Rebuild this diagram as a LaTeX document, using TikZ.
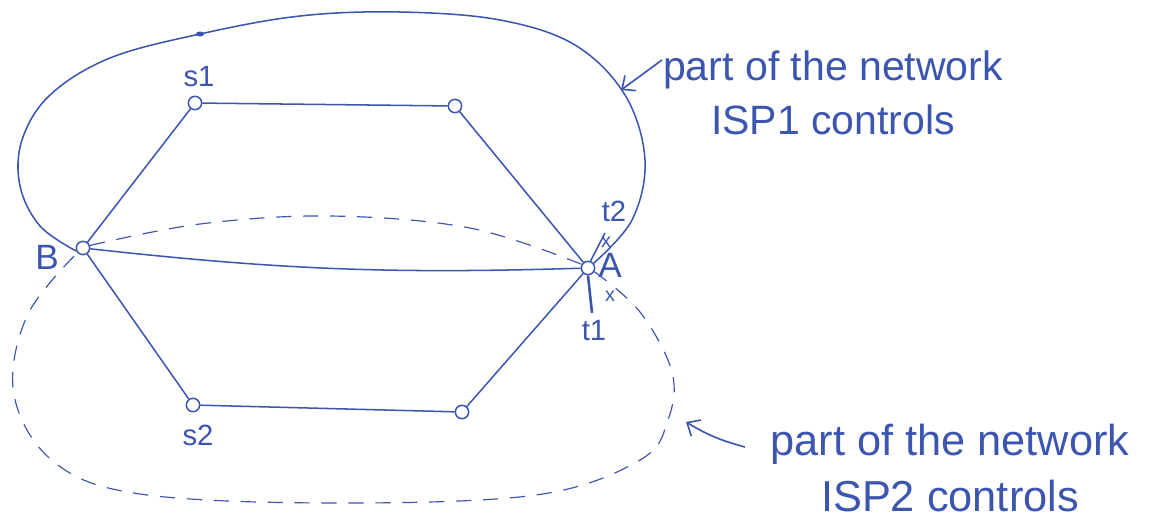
\documentclass[tikz,border=0pt]{standalone}
\usepackage{fontspec}
\setmainfont{Liberation Sans}
\usetikzlibrary{arrows.meta}
\definecolor{pen}{RGB}{60,85,175}
\begin{document}
\begin{tikzpicture}[x=0.03cm,y=-0.03cm, line width=1.3pt, draw=pen, text=pen,
  vtx/.style={circle,draw=pen,fill=white,inner sep=0pt,minimum size=0.40cm,line width=1.3pt},
  lbl/.style={font=\fontsize{25}{27}\selectfont},
  bigl/.style={font=\fontsize{30}{32}\selectfont},
  xmark/.style={font=\fontsize{17}{17}\selectfont},
  note/.style={font=\fontsize{35}{46}\selectfont,align=center},
  loop2/.style={dash pattern=on 13pt off 10pt,line width=1pt},
  pointer/.style={-{Straight Barb[length=9pt,width=16pt]},line width=1.4pt}]
\useasboundingbox (0,0) rectangle (1167,521);
% vertices
\node[vtx] (s1) at (195,103) {};
\node[vtx] (n2) at (455,106) {};
\node[vtx] (B)  at (83,248) {};
\node[vtx] (A)  at (588,268) {};
\node[vtx] (s2) at (193,405) {};
\node[vtx] (n4) at (462,412) {};
% edges
\draw (s1) -- (n2);
\draw (n2) -- (A);
\draw (B) -- (s1);
\draw (B) to[bend right=4] (A);
\draw (B) -- (s2);
\draw (s2) -- (n4);
\draw (n4) -- (A);
% ISP1 loop (solid)
\draw plot[smooth,tension=0.6] coordinates {(B.205) (40,226) (20,186) (22,140) (50,95) (110,58) (200,34) (300,16) (400,12) (500,20) (575,45) (625,95) (645,160) (632,220) (A.40)};
\fill[pen] (200,34) ellipse (4 and 2.5);
% ISP2 loop (dashed)
\draw[loop2] plot[smooth,tension=0.6] coordinates {(B.20) (200,224) (330,216) (470,228) (A.150)};
\draw[loop2] plot[smooth,tension=0.6] coordinates {(A.-30) (640,312) (672,372) (668,420) (640,460) (536,495) (330,503) (140,494) (54,462) (14,395) (27,316) (B.220)};
% terminals
\coordinate (t2e) at (605,233);
\coordinate (t1e) at (592,313);
\draw (A.70) -- (t2e);
\draw[line width=2.2pt] (A.-90) -- (t1e);
% labels
\node[lbl] (ls1) at (199,77) {s1};
\node[lbl] (ls2) at (198,435) {s2};
\node[lbl] (lt2) at (614,211) {t2};
\node[lbl] (lt1) at (594,331) {t1};
\node[bigl] (lA) at (610,265) {A};
\node[bigl] (lB) at (47,257) {B};
\node[xmark] (x1) at (606,242) {x};
\node[xmark] (x2) at (610,296) {x};
% notes
\node[note] (note1) at (833,93) {part of the network\\ISP1 controls};
\node[note,font=\fontsize{37}{48}\selectfont] (note2) at (950,468) {part of the network\\ISP2 controls};
\draw[pointer] (662,60) -- (621,90);
\draw[pointer] (745,447) to[bend left=8] (686,422);
\end{tikzpicture}
\end{document}
